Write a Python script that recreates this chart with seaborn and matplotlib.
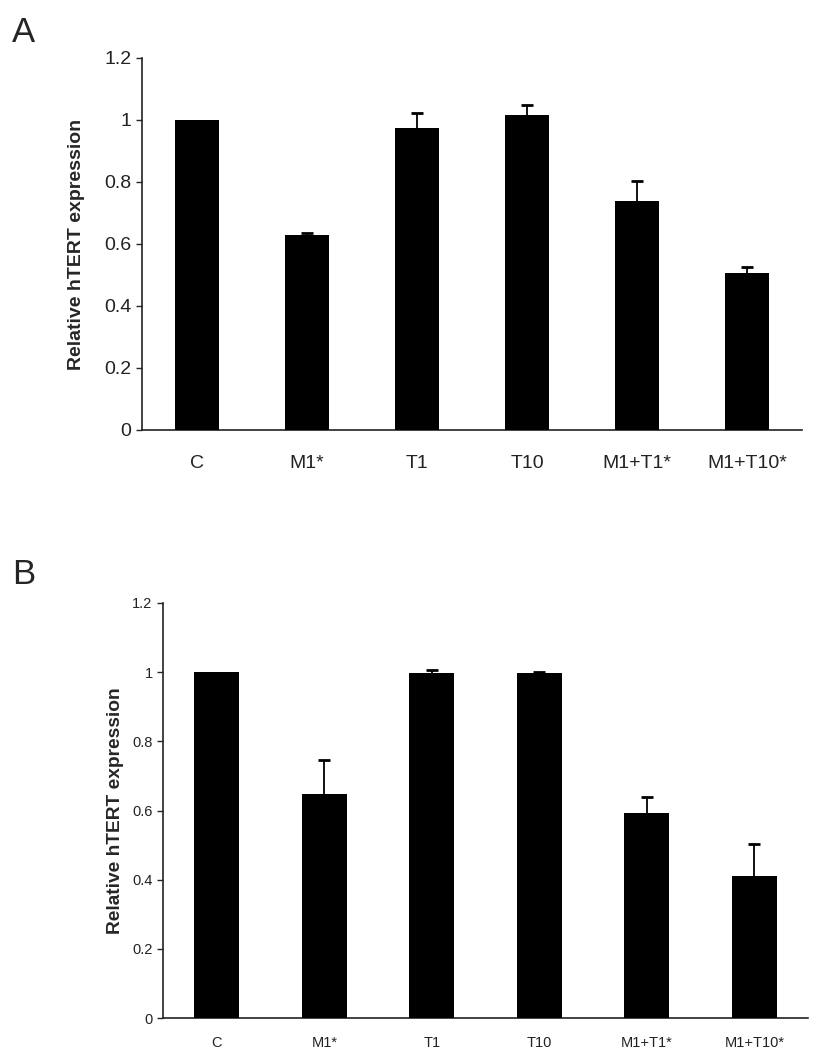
import numpy as np
import pandas as pd
import matplotlib
matplotlib.use("Agg")
import matplotlib.pyplot as plt
import seaborn as sns

categories = ["C", "M1*", "T1", "T10", "M1+T1*", "M1+T10*"]

# panel A
a_means = [1.0, 0.628, 0.974, 1.015, 0.739, 0.505]
a_upper = [1.0, 0.636, 1.022, 1.049, 0.803, 0.526]

# panel B
b_means = [1.0, 0.647, 0.999, 0.998, 0.594, 0.412]
b_upper = [1.0, 0.745, 1.006, 1.000, 0.638, 0.503]

y_ticks = [0, 0.2, 0.4, 0.6, 0.8, 1.0, 1.2]
y_tick_labels = ["0", "0.2", "0.4", "0.6", "0.8", "1", "1.2"]

sns.set_style("white")
plt.rcParams["font.family"] = ["Liberation Sans", "DejaVu Sans"]

W, H = 830, 1050
fig = plt.figure(figsize=(W / 100, H / 100), dpi=100)


def panel(rect, means, upper, tick_size, label_size, label_pad, x_pad, bar_w):
    left, top, right, bottom = rect
    ax = fig.add_axes([left / W, 1 - bottom / H, (right - left) / W, (bottom - top) / H])
    df = pd.DataFrame({"cond": categories, "val": means})
    sns.barplot(data=df, x="cond", y="val", color="black", width=bar_w,
                saturation=1, edgecolor="black", linewidth=0, ax=ax)
    for p in ax.patches:
        p.set_zorder(4)
    # one-sided (upper) error bars; bars cover the lower half
    means = np.array(means)
    err = np.array(upper) - means
    idx = np.where(err > 0.001)[0]
    ax.errorbar(idx, means[idx], yerr=[err[idx], err[idx]], fmt="none",
                ecolor="black", elinewidth=1.3, capsize=4, capthick=2, zorder=2)
    ax.set_xlim(-0.5, len(categories) - 0.5)
    ax.set_ylim(0, 1.2)
    ax.set_yticks(y_ticks)
    ax.set_yticklabels(y_tick_labels, fontsize=tick_size, color="#222222")
    ax.set_xticks(np.arange(len(categories)))
    ax.set_xticklabels(categories, fontsize=tick_size, color="#222222")
    ax.set_xticks(np.arange(len(categories) + 1) - 0.5, minor=True)
    ax.tick_params(axis="x", which="major", length=0, pad=x_pad)
    ax.tick_params(axis="x", which="minor", length=5, width=1, direction="out")
    ax.tick_params(axis="y", length=4, width=1, direction="out", left=True)
    ax.set_xlabel("")
    ax.set_ylabel("Relative hTERT expression", fontsize=label_size,
                  fontweight="bold", labelpad=label_pad)
    sns.despine(ax=ax)
    for s in ["left", "bottom"]:
        ax.spines[s].set_color("#222222")
        ax.spines[s].set_linewidth(1.2)
    return ax


panel((142, 58, 802, 430), a_means, a_upper, 14, 14, 14, 18, 0.40)
panel((163, 603, 808, 1018), b_means, b_upper, 10.5, 13.8, 6, 13, 0.42)

fig.text(12 / W, 1 - 42 / H, "A", fontsize=25)
fig.text(12 / W, 1 - 584 / H, "B", fontsize=25)

fig.savefig("out.png", dpi=100, facecolor="white")
